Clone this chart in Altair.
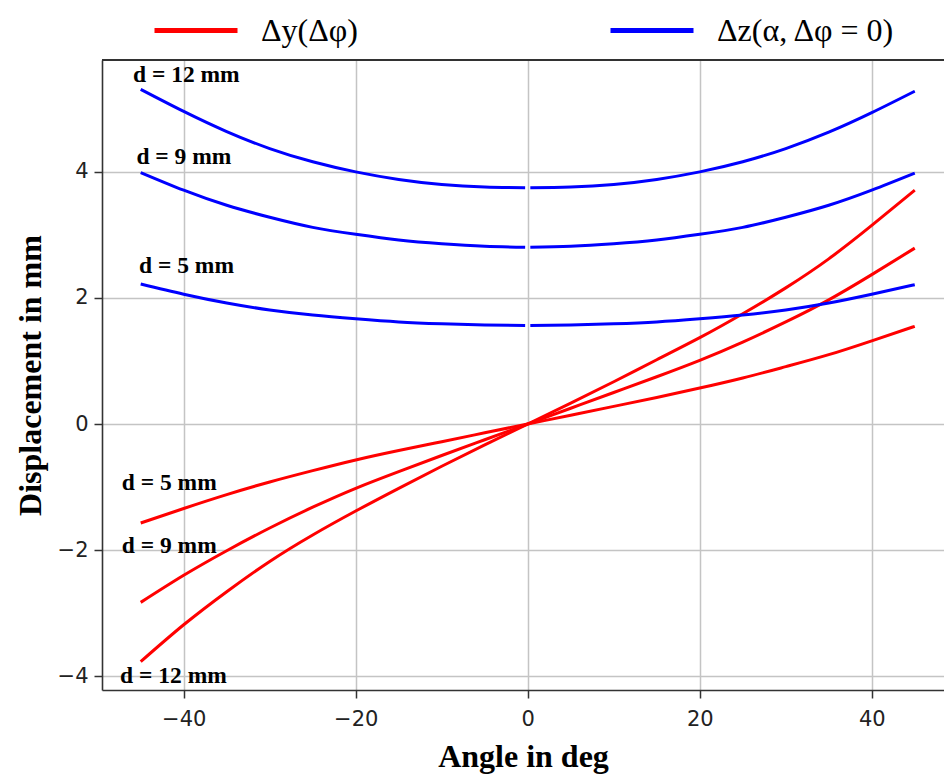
import altair as alt
import pandas as pd

# ---------------- data ----------------
ANGLES = [-45, -40, -35, -30, -25, -20, -15, -10, -5, 0, 5, 10, 15, 20, 25, 30, 35, 40, 45]
DY_D5 = [-1.57, -1.34, -1.12, -0.92, -0.74, -0.57, -0.42, -0.28, -0.14, 0.0,
         0.14, 0.28, 0.42, 0.57, 0.73, 0.91, 1.10, 1.32, 1.55]
DY_D9 = [-2.83, -2.40, -2.01, -1.65, -1.32, -1.02, -0.755, -0.50, -0.25, 0.0,
         0.25, 0.50, 0.75, 1.01, 1.30, 1.62, 1.97, 2.37, 2.79]
DY_D12 = [-3.77, -3.185, -2.66, -2.18, -1.76, -1.38, -1.02, -0.67, -0.33, 0.0,
          0.33, 0.67, 1.02, 1.37, 1.75, 2.16, 2.62, 3.15, 3.71]

BLUE_LEFT_ANGLES = [-45, -40, -35, -30, -25, -20, -15, -10, -5, -0.3]
BLUE_RIGHT_ANGLES = [0.3, 5, 10, 15, 20, 25, 30, 35, 40, 45]
DZ_D5_LEFT = [2.22, 2.06, 1.92, 1.81, 1.73, 1.67, 1.62, 1.59, 1.57, 1.563]
DZ_D5_RIGHT = [1.563, 1.57, 1.59, 1.62, 1.67, 1.73, 1.81, 1.92, 2.06, 2.21]
DZ_D9_LEFT = [3.99, 3.71, 3.47, 3.28, 3.12, 3.01, 2.92, 2.86, 2.82, 2.805]
DZ_D9_RIGHT = [2.805, 2.82, 2.86, 2.92, 3.01, 3.12, 3.28, 3.47, 3.71, 3.98]
DZ_D12_LEFT = [5.31, 4.96, 4.64, 4.37, 4.16, 4.00, 3.88, 3.80, 3.76, 3.75]
DZ_D12_RIGHT = [3.75, 3.76, 3.80, 3.88, 4.00, 4.16, 4.37, 4.63, 4.94, 5.28]

SERIES = ["Δy(Δφ)", "Δz(α, Δφ = 0)"]
COLORS = ["#ff0000", "#0000ff"]

LABEL_TEXT = ["d = 12 mm", "d = 9 mm", "d = 5 mm", "d = 5 mm", "d = 9 mm", "d = 12 mm"]
LABEL_X = [-45.9, -45.5, -45.2, -47.2, -47.2, -47.4]
LABEL_Y = [5.53, 4.24, 2.51, -0.93, -1.93, -4.0]

X_TICKS = [-40, -20, 0, 20, 40]
Y_TICKS = [-4, -2, 0, 2, 4]
X_DOMAIN = [-49.5, 48.4]
Y_DOMAIN = [-4.22, 5.775]

# ---------------- build table ----------------
rows = []
for name, vals in [("y5", DY_D5), ("y9", DY_D9), ("y12", DY_D12)]:
    for a, v in zip(ANGLES, vals):
        rows.append({"series": SERIES[0], "curve": name, "angle": a, "value": v})
for name, angs, vals in [
    ("z5L", BLUE_LEFT_ANGLES, DZ_D5_LEFT), ("z5R", BLUE_RIGHT_ANGLES, DZ_D5_RIGHT),
    ("z9L", BLUE_LEFT_ANGLES, DZ_D9_LEFT), ("z9R", BLUE_RIGHT_ANGLES, DZ_D9_RIGHT),
    ("z12L", BLUE_LEFT_ANGLES, DZ_D12_LEFT), ("z12R", BLUE_RIGHT_ANGLES, DZ_D12_RIGHT),
]:
    for a, v in zip(angs, vals):
        rows.append({"series": SERIES[1], "curve": name, "angle": a, "value": v})
df = pd.DataFrame(rows)
labels = pd.DataFrame({"text": LABEL_TEXT, "x": LABEL_X, "y": LABEL_Y})

W, H = 842, 630

xscale = alt.Scale(domain=X_DOMAIN, nice=False, zero=False)
yscale = alt.Scale(domain=Y_DOMAIN, nice=False, zero=False)

lines = alt.Chart(df).mark_line(strokeWidth=3, interpolate="natural", strokeCap="butt", clip=True).encode(
    x=alt.X("angle:Q", scale=xscale,
            axis=alt.Axis(values=X_TICKS, title="Angle in deg", format="d")),
    y=alt.Y("value:Q", scale=yscale,
            axis=alt.Axis(values=Y_TICKS, title="Displacement in mm", format="d")),
    color=alt.Color("series:N", scale=alt.Scale(domain=SERIES, range=COLORS),
                    legend=alt.Legend(orient="none", legendX=50, legendY=-73.5,
                                      direction="horizontal", title=None,
                                      symbolType="stroke", symbolSize=6889,
                                      symbolStrokeWidth=5, labelFont="Liberation Serif",
                                      labelFontSize=32, labelOffset=21, labelLimit=0,
                                      columnPadding=242, padding=0, labelColor="black")),
    detail="curve:N",
)

texts = alt.Chart(labels).mark_text(
    align="left", baseline="middle", font="Liberation Serif", fontWeight="bold",
    fontSize=23.5, color="black"
).encode(
    x=alt.X("x:Q", scale=xscale),
    y=alt.Y("y:Q", scale=yscale),
    text="text:N",
)

top_border = alt.Chart(labels).mark_rule(color="#333333", strokeWidth=1.6).encode(
    x=alt.value(0), x2=alt.value(W), y=alt.value(0)
)

chart = alt.layer(lines, texts, top_border).properties(
    width=W, height=H,
    autosize=alt.AutoSizeParams(type="none"),
    padding={"left": 102, "top": 60, "right": 0, "bottom": 86},
).configure_view(stroke=None).configure_axis(
    labelFont="DejaVu Sans", labelFontSize=21, labelColor="#222222",
    tickColor="#333333", tickWidth=1.5, tickSize=8,
    domainColor="#333333", domainWidth=1.6,
    gridColor="#c4c4c4", gridWidth=1.5,
    titleFont="Liberation Serif", titleFontWeight="bold", titleFontSize=32,
    titleColor="black",
).configure_axisX(labelPadding=10, titlePadding=12).configure_axisY(labelPadding=6, titlePadding=10)

chart.save("out.html", embed_options={"renderer": "svg", "actions": False})
